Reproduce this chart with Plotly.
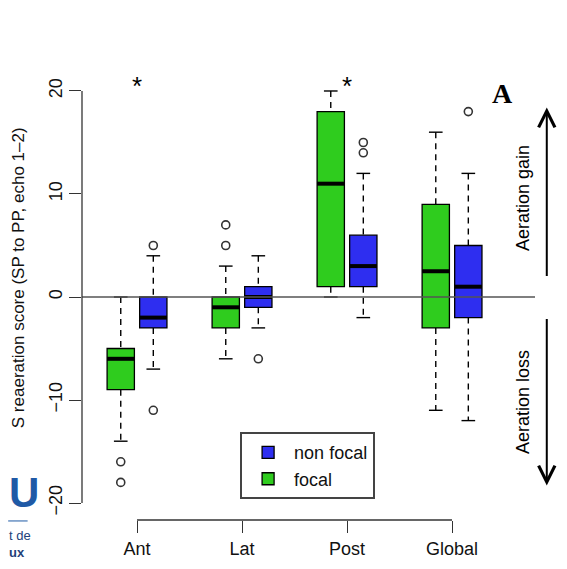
import plotly.graph_objects as go

categories = ["Ant", "Lat", "Post", "Global"]
cat_pos = [1, 2, 3, 4]

# focal (green) box stats
focal_lower = [-14, -6, 0, -11]
focal_q1 = [-9, -3, 1, -3]
focal_med = [-6, -1, 11, 2.5]
focal_q3 = [-5, 0, 18, 9]
focal_upper = [0, 3, 20, 16]
focal_out_x = ["Ant", "Ant", "Lat", "Lat"]
focal_out_y = [-16, -18, 5, 7]

# non focal (blue) box stats
nonf_lower = [-7, -3, -2, -12]
nonf_q1 = [-3, -1, 1, -2]
nonf_med = [-2, 0, 3, 1]
nonf_q3 = [0, 1, 6, 5]
nonf_upper = [4, 4, 12, 12]
nonf_out_x = ["Ant", "Ant", "Lat", "Post", "Post", "Global"]
nonf_out_y = [5, -11, -6, 14, 15, 18]

star_cats = ["Ant", "Post"]
star_y = [20.2, 20.2]

GREEN = "#2FCC1E"
BLUE = "#2E2EF0"
FONT = "Liberation Sans"
OFF = 0.155
BW = 0.26

pos_of = dict(zip(categories, cat_pos))

fig = go.Figure()


def add_group(name, rank, color, offset, lower, q1, med, q3, upper, out_x, out_y):
    xs = [p + offset for p in cat_pos]
    fig.add_trace(go.Box(
        x=xs, q1=q1, median=med, q3=q3, lowerfence=q1, upperfence=q3,
        width=BW, whiskerwidth=0, fillcolor=color,
        line=dict(color="black", width=1.3), boxpoints=False,
        name=name, legendrank=rank, hoverinfo="skip"
    ))
    # dashed whiskers
    wx, wy = [], []
    for x, a, b, c, d in zip(xs, lower, q1, q3, upper):
        wx += [x, x, None, x, x, None]
        wy += [d, c, None, b, a, None]
    fig.add_trace(go.Scatter(x=wx, y=wy, mode="lines", showlegend=False,
                             line=dict(color="black", width=1.4, dash="6px,5px"),
                             hoverinfo="skip"))
    # staples
    sx, sy = [], []
    for x, a, d in zip(xs, lower, upper):
        sx += [x - BW / 4, x + BW / 4, None, x - BW / 4, x + BW / 4, None]
        sy += [d, d, None, a, a, None]
    fig.add_trace(go.Scatter(x=sx, y=sy, mode="lines", showlegend=False,
                             line=dict(color="black", width=1.4), hoverinfo="skip"))
    # thick medians
    mx, my = [], []
    for x, m in zip(xs, med):
        mx += [x - BW / 2, x + BW / 2, None]
        my += [m, m, None]
    fig.add_trace(go.Scatter(x=mx, y=my, mode="lines", showlegend=False,
                             line=dict(color="black", width=4), hoverinfo="skip"))
    # outliers
    fig.add_trace(go.Scatter(
        x=[pos_of[c] + offset for c in out_x], y=out_y, mode="markers",
        showlegend=False, hoverinfo="skip",
        marker=dict(symbol="circle-open", size=8, color="#333",
                    line=dict(width=1.6, color="#333"))
    ))


add_group("focal", 2, GREEN, -OFF, focal_lower, focal_q1, focal_med, focal_q3,
          focal_upper, focal_out_x, focal_out_y)
add_group("non focal", 1, BLUE, OFF, nonf_lower, nonf_q1, nonf_med, nonf_q3,
          nonf_upper, nonf_out_x, nonf_out_y)

# significance stars
fig.add_trace(go.Scatter(
    x=[pos_of[c] for c in star_cats], y=star_y, mode="text", text=["*"] * len(star_cats),
    textfont=dict(family=FONT, size=26, color="black"), textposition="middle center",
    showlegend=False, hoverinfo="skip"
))

shapes = [
    # zero reference line
    dict(type="line", xref="x domain", yref="y", x0=0, x1=1, y0=0, y1=0,
         line=dict(color="#555", width=1.5)),
    # y axis line (only over tick range)
    dict(type="line", xref="x domain", yref="y", x0=0, x1=0, y0=-20, y1=20,
         line=dict(color="#333", width=1.3)),
    # x axis line (only over tick range)
    dict(type="line", xref="x", yref="y domain", x0=1, x1=4, y0=0, y1=0,
         line=dict(color="#333", width=1.3)),
    # logo rule
    dict(type="line", xref="paper", yref="paper", x0=-0.163, x1=-0.12,
         y0=-0.002, y1=-0.002, line=dict(color="#1F5AA6", width=1)),
]

annotations = [
    dict(text="S reaeration score (SP to PP, echo 1\u20132)", xref="paper", yref="paper",
         x=-0.141, y=0.504, xanchor="center", yanchor="middle", textangle=-90,
         showarrow=False, font=dict(family=FONT, size=17, color="#111")),
    dict(text="<b>A</b>", xref="paper", yref="paper", x=0.929, y=0.888,
         xanchor="center", yanchor="middle",
         showarrow=False, font=dict(family="Liberation Serif", size=28, color="black")),
    dict(text="Aeration gain", xref="x domain", yref="y", x=0.9735, y=9.6,
         xanchor="center", yanchor="middle",
         textangle=-90, showarrow=False, font=dict(family=FONT, size=18, color="black")),
    dict(text="Aeration loss", xref="x domain", yref="y", x=0.9735, y=-10.2,
         xanchor="center", yanchor="middle",
         textangle=-90, showarrow=False, font=dict(family=FONT, size=18, color="black")),
    dict(text="", xref="x domain", yref="y", x=1.026, y=18.4,
         axref="x domain", ayref="y", ax=1.026, ay=1.9, showarrow=True,
         arrowhead=5, arrowsize=1.6, arrowwidth=2, arrowcolor="black"),
    dict(text="", xref="x domain", yref="y", x=1.026, y=-18.3,
         axref="x domain", ayref="y", ax=1.026, ay=-2.0, showarrow=True,
         arrowhead=5, arrowsize=1.6, arrowwidth=2, arrowcolor="black"),
    # partial logo in lower-left corner
    dict(text="<b>U</b>", xref="paper", yref="paper", x=-0.165, y=0.058,
         xanchor="left", yanchor="middle", showarrow=False,
         font=dict(family=FONT, size=42, color="#1F5AA6")),
    dict(text="t de<br><b>ux</b>", xref="paper", yref="paper", x=-0.165, y=-0.05,
         xanchor="left", yanchor="middle", align="left", showarrow=False,
         font=dict(family=FONT, size=13, color="#23427A")),
]

fig.update_layout(
    width=567, height=569,
    margin=dict(l=74, r=40, t=32, b=57),
    paper_bgcolor="white", plot_bgcolor="white",
    font=dict(family=FONT, size=17, color="#111"),
    xaxis=dict(range=[0.476, 4.79], tickmode="array", tickvals=cat_pos, ticktext=categories,
               showgrid=False, zeroline=False, showline=False, ticks="outside",
               ticklen=12, tickwidth=1.3, tickcolor="#333",
               tickfont=dict(family=FONT, size=18, color="#111")),
    yaxis=dict(range=[-21.65, 24.95], tickvals=[-20, -10, 0, 10, 20],
               showgrid=False, zeroline=False, showline=False, ticks="outside",
               ticklen=12, tickwidth=1.3, tickcolor="#333", tickangle=-90,
               tickfont=dict(family=FONT, size=18, color="#111")),
    showlegend=True,
    legend=dict(x=0.349, y=0.183, xanchor="left", yanchor="top", traceorder="normal",
                itemwidth=42, bordercolor="#444", borderwidth=2, bgcolor="white",
                font=dict(family=FONT, size=18, color="#111")),
    shapes=shapes,
    annotations=annotations,
)

fig.write_html("out.html")
